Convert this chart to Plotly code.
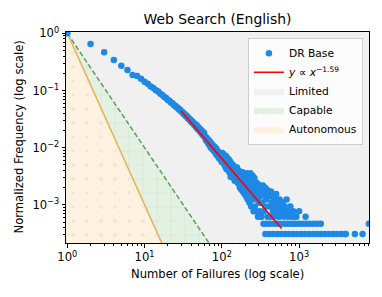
import plotly.graph_objects as go

# ---------------- data ----------------
# DR Base: number of failures and raw frequency counts (normalized by the count at x=1)
failures = [
    1, 2, 3, 4, 5, 6, 7,
    8, 9, 10, 11, 12, 13, 14, 15, 16, 17, 18, 19, 20, 21, 22, 23, 24, 25, 26, 27, 28, 29, 30,
    31, 32, 33, 34, 35, 36, 37, 38, 39, 40, 41, 42, 43, 44, 45, 46, 47, 48, 49, 50,
    51, 52, 53, 54, 55, 56, 57, 58, 59, 60,
    61, 62, 63, 64, 65, 66, 67, 68, 69, 70, 71, 72, 73, 74, 75, 76, 77, 78, 79, 80,
    81, 82, 83, 84, 85, 86, 87, 88, 89, 90, 91, 92, 93, 94, 95, 96, 97, 98, 99, 100, 101,
    102, 104, 105, 107, 108, 110, 111, 113, 115, 116, 118, 120, 121, 123, 125, 126, 128, 130,
    131, 133, 135, 137, 139, 141, 143, 145, 147, 149, 151, 153, 155, 157, 159, 161, 163, 165,
    167, 169, 171, 173, 175, 178, 180, 182, 185, 187, 190, 192, 195, 197, 200, 202, 205, 207,
    210, 213, 216, 219, 222, 225, 228, 231, 234, 237, 240, 243, 246, 249, 252, 255, 258, 261,
    264, 267, 270, 274, 278, 282, 286, 290, 294, 298, 302, 306, 310, 315, 320, 325, 330, 335, 340,
    350, 355, 360, 368, 375, 382, 390, 398, 405, 415, 425, 432, 440, 450, 460, 470, 480, 492,
    505, 515, 530, 545, 560, 575, 590, 610, 630, 650, 670, 689, 710, 740, 770, 800, 840, 880,
    920, 1000, 1213,
    346, 381, 421, 471, 521, 581, 651, 721, 801, 891, 991, 1101, 1231, 1371, 1531, 1711, 1911, 8000,
    366, 411, 462, 522, 586, 661, 741, 836, 941, 1061, 1191, 1341, 1511, 1701, 1921, 2161, 2431,
    2741, 3081, 3471, 3901, 4031, 5271, 6631,
]
counts = [
    6450, 4190, 3010, 2205, 1755, 1476, 1208,
    1153, 1030, 915, 842, 760, 712, 650, 618, 568, 540, 496, 478, 440, 428, 395, 386, 356, 350, 325, 322, 298, 296, 274,
    271, 250, 250, 230, 232, 212, 215, 198, 200, 183, 188, 172, 176, 160, 168, 150, 160, 140, 150, 132,
    141, 125, 134, 117, 127, 110, 121, 104, 116, 99,
    100, 88, 97, 84, 92, 79, 88, 74, 84, 70, 80, 64, 76, 68, 72, 60, 70, 62, 66, 55,
    66, 56, 60, 50, 62, 52, 56, 46, 55, 48, 54, 42, 52, 46, 50, 40, 48, 42, 45, 36, 52,
    44, 38, 50, 33, 45, 40, 30, 46, 27, 38, 42, 28, 35, 40, 24, 32, 37, 20,
    29, 34, 22, 27, 32, 19, 25, 30, 17, 22, 27, 18, 24, 29, 16, 21, 26, 15,
    19, 25, 13, 17, 22, 12, 20, 15, 24, 11, 18, 14, 22, 10, 16, 12, 20, 9,
    23, 14, 8, 18, 11, 22, 7, 15, 23, 10, 6, 18, 12, 21, 8, 16, 5, 13,
    19, 6, 10, 16, 5, 12, 8, 15, 4, 11, 7, 14, 5, 9, 13, 4, 7, 11, 14,
    5, 10, 13, 6, 8, 12, 4, 9, 11, 6, 4, 11, 7, 9, 5, 4, 8, 6,
    10, 5, 7, 4, 8, 6, 5, 7, 4, 6, 5, 8, 4, 5, 6, 4, 5, 4,
    4, 5, 4,
    3, 3, 3, 3, 3, 3, 3, 3, 3, 3, 3, 3, 3, 3, 3, 3, 3, 3,
    2, 2, 2, 2, 2, 2, 2, 2, 2, 2, 2, 2, 2, 2, 2, 2, 2,
    2, 2, 2, 2, 2, 2, 2,
]

# power-law fit line (y ∝ x^-1.59), endpoints
fit_x = [29.6, 594]
fit_y = [0.044, 3.84e-4]

# region boundary lines
capable_x = [1, 100]
capable_y = [1, 1e-4]
autonomous_x = [1, 100]
autonomous_y = [1, 1e-6]

x_tick_vals = [1, 10, 100, 1000]
x_tick_text = ["10<sup>0</sup>", "10<sup>1</sup>", "10<sup>2</sup>", "10<sup>3</sup>"]
y_tick_vals = [1, 0.1, 0.01, 0.001]
y_tick_text = ["10<sup>0</sup>", "10<sup>−1</sup>", "10<sup>−2</sup>", "10<sup>−3</sup>"]

# ---------------- figure ----------------
norm_freq = [c / counts[0] for c in counts]

FONT = "DejaVu Sans"
LIMITED = "#f0f0f0"
CAPABLE = "#e3f1e3"
AUTON = "#fdf2df"
BLUE = "#1E88E5"

far_left, far_bottom = 0.5, 1e-8

fig = go.Figure()

# Limited region (everything)
fig.add_trace(go.Scatter(
    x=[far_left, 1e5, 1e5, far_left], y=[far_bottom, far_bottom, 10, 10],
    fill="toself", fillcolor=LIMITED, mode="lines", line=dict(width=0),
    name="Limited", legendrank=3, hoverinfo="skip"))

# Capable region
fig.add_trace(go.Scatter(
    x=[far_left] + capable_x + [capable_x[-1], far_left],
    y=[capable_y[0]] + capable_y + [far_bottom, far_bottom],
    fill="toself", fillcolor=CAPABLE, mode="lines", line=dict(width=0),
    fillpattern=dict(shape="+", fgcolor="#d3dbd3", bgcolor=CAPABLE, size=14, solidity=0.14),
    name="Capable", legendrank=4, hoverinfo="skip"))

# Autonomous region
fig.add_trace(go.Scatter(
    x=[far_left] + autonomous_x + [autonomous_x[-1], far_left],
    y=[autonomous_y[0]] + autonomous_y + [far_bottom, far_bottom],
    fill="toself", fillcolor=AUTON, mode="lines", line=dict(width=0),
    fillpattern=dict(shape=".", fgcolor="#dedcd8", bgcolor=AUTON, size=14, solidity=0.07),
    name="Autonomous", legendrank=5, hoverinfo="skip"))

# boundary lines
fig.add_trace(go.Scatter(x=capable_x, y=capable_y, mode="lines",
                         line=dict(color="#5b9e5b", width=1.5, dash="5px,2.5px"),
                         showlegend=False, hoverinfo="skip"))
fig.add_trace(go.Scatter(x=autonomous_x, y=autonomous_y, mode="lines",
                         line=dict(color="#e8b050", width=1.5),
                         showlegend=False, hoverinfo="skip"))

# DR Base scatter
fig.add_trace(go.Scatter(x=failures, y=norm_freq, mode="markers",
                         marker=dict(color=BLUE, size=6.5, line=dict(width=0)),
                         name="DR Base", legendrank=1))

# fit line
fig.add_trace(go.Scatter(x=fit_x, y=fit_y, mode="lines",
                         line=dict(color="red", width=1.6),
                         name="<i>y</i> ∝ <i>x</i><sup>−1.59</sup>", legendrank=2))

minor_x = [k * 10 ** e for e in range(0, 4) for k in range(2, 10)]
minor_y = [k * 10 ** e for e in range(-4, 0) for k in range(2, 10)]

axis_common = dict(
    type="log", showgrid=False, zeroline=False, showline=True, mirror=True,
    linecolor="black", linewidth=1, ticks="outside", ticklen=3.5, tickwidth=1,
    tickcolor="black", tickfont=dict(family=FONT, size=11.6, color="black"),
)

fig.update_layout(
    width=382, height=297,
    margin=dict(l=66, r=13, t=32, b=54),
    paper_bgcolor="white", plot_bgcolor=LIMITED,
    font=dict(family=FONT, color="black"),
    title=dict(text="Web Search (English)", x=0.5, xref="paper", xanchor="center",
               y=1 - 19 / 297, yref="container", yanchor="middle",
               font=dict(family=FONT, size=13.9, color="black")),
    xaxis=dict(axis_common, range=[-0.017, 3.905], tickmode="array",
               tickvals=x_tick_vals, ticktext=x_tick_text,
               minor=dict(tickmode="array", tickvals=minor_x, ticks="outside",
                          ticklen=2, tickcolor="black", showgrid=False)),
    yaxis=dict(axis_common, range=[-3.668, 0.023], tickmode="array",
               tickvals=y_tick_vals, ticktext=y_tick_text,
               minor=dict(tickmode="array", tickvals=minor_y, ticks="outside",
                          ticklen=2, tickcolor="black", showgrid=False)),
    legend=dict(x=0.98, y=0.973, xanchor="right", yanchor="top",
                bgcolor="rgba(255,255,255,0.8)", bordercolor="#cccccc", borderwidth=1,
                font=dict(family=FONT, size=10.7, color="black"), tracegroupgap=0),
    showlegend=True,
    annotations=[
        dict(text="Number of Failures (log scale)", xref="paper", yref="paper",
             x=0.5, y=(243 - 274) / 211, xanchor="center", yanchor="middle",
             showarrow=False, font=dict(family=FONT, size=11.6, color="black")),
        dict(text="Normalized Frequency (log scale)", xref="paper", yref="paper",
             x=(18 - 66) / 303, y=0.5, xanchor="center", yanchor="middle", textangle=-90,
             showarrow=False, font=dict(family=FONT, size=11.6, color="black")),
    ],
)

fig.write_html("out.html", config={"displayModeBar": False},
               post_script="document.body.style.margin='0';document.body.style.overflow='hidden';")
